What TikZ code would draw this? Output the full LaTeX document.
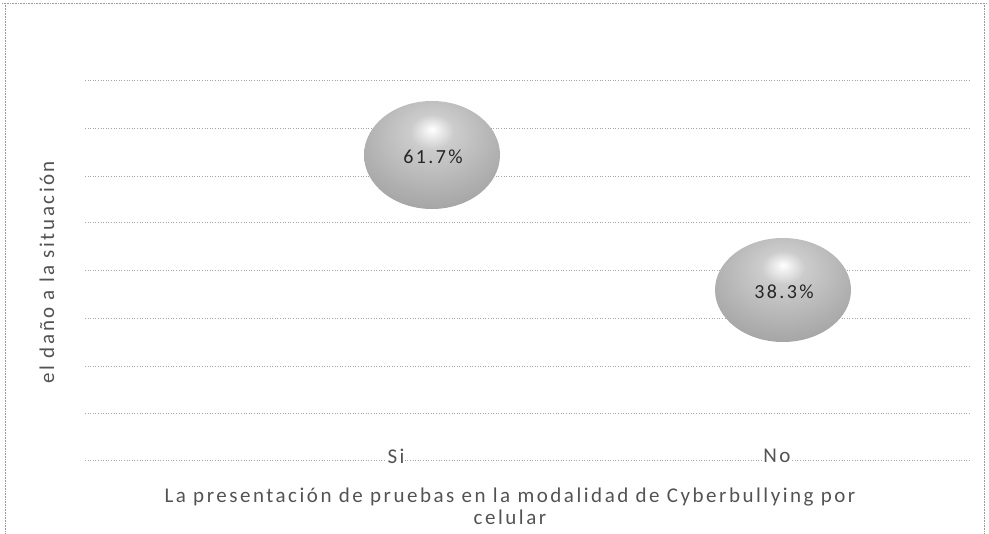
\documentclass[tikz,border=0pt]{standalone}
\usepackage{fontspec}
\setmainfont{Carlito}
\newfontfamily\chartfont[LetterSpace=12]{Carlito}
\pgfdeclareradialshading{bubshade}{\pgfpoint{0bp}{12bp}}{%
  color(0bp)=(white); color(8bp)=(gray!40); color(25bp)=(gray!62);
  color(42bp)=(gray!82); color(60bp)=(gray!95); color(75bp)=(gray!95)}
\begin{document}
\begin{tikzpicture}[x=1pt,y=-1pt,
  grid/.style={draw=gray!70, line width=0.6pt, dotted},
  frameline/.style={draw=gray!80, line width=0.6pt, densely dotted},
  bub/.style={shading=bubshade},
  lbl/.style={text=gray!65!black, font=\chartfont\fontsize{21}{22}\selectfont},
  pct/.style={text=gray!30!black, font=\chartfont\fontsize{20}{22}\selectfont}
]
\useasboundingbox (0,0) rectangle (989,534);
% outer frame
\draw[frameline] (2,3) -- (987,3);
\draw[frameline] (5,3) -- (5,534);
\draw[frameline] (984,3) -- (984,534);
% grid lines
\foreach \y in {80,128,176,222,270,318,366,413,460}
  \draw[grid] (85,\y) -- (970,\y);
% bubbles
\shade[bub] (432,155) ellipse [x radius=68, y radius=54];
\node[pct] (b1) at (433,157) {61.7\%};
\shade[bub] (783,290) ellipse [x radius=68, y radius=52];
\node[pct] (b2) at (784,292) {38.3\%};
% category labels
\node[lbl, fill=white, inner sep=1pt] (si) at (396,456) {Si};
\node[lbl, fill=white, inner sep=1pt] (no) at (777,456) {No};
% axis title
\node[lbl, align=center] (xt) at (510,506) {La presentación de pruebas en la modalidad de Cyberbullying por\\celular};
% y label
\node[lbl, rotate=90] (yt) at (47,272) {el daño a la situación};
\end{tikzpicture}
\end{document}
